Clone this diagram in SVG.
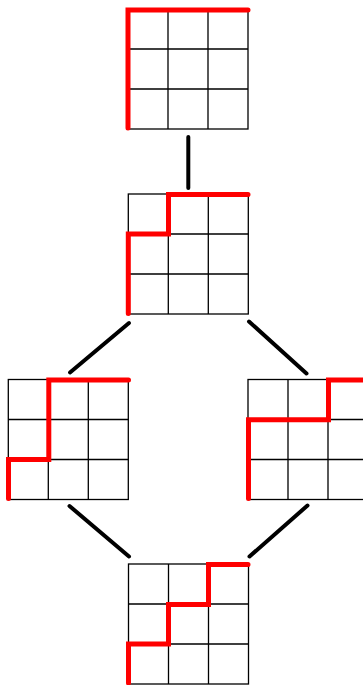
<svg xmlns="http://www.w3.org/2000/svg" width="363" height="685" viewBox="0 0 363 685">
  <style>
    .grid { fill: none; stroke: #000; stroke-width: 1.3; }
    .path { fill: none; stroke: #ff0000; stroke-width: 5; stroke-linecap: round; stroke-linejoin: miter; }
    .edge { stroke: #000; stroke-width: 4; stroke-linecap: round; }
  </style>
  <defs>
    <!-- 3x3 lattice, 40px cells -->
    <g id="lattice">
      <rect class="grid" x="0" y="0" width="120" height="120"/>
      <path class="grid" d="M40 0V120M80 0V120M0 40H120M0 80H120"/>
    </g>
  </defs>
  <rect width="363" height="685" fill="#fff"/>

  <g id="connectors">
    <line class="edge" x1="188.3" y1="137" x2="188.3" y2="188"/>
    <line class="edge" x1="129" y1="323" x2="70" y2="372.5"/>
    <line class="edge" x1="249" y1="321.5" x2="306.5" y2="373.5"/>
    <line class="edge" x1="69.5" y1="506" x2="129" y2="556.5"/>
    <line class="edge" x1="307.5" y1="505.5" x2="249.5" y2="556.5"/>
  </g>

  <g id="node-top">
    <use href="#lattice" x="128" y="9"/>
    <path class="path" d="M128 128V10H248"/>
  </g>

  <g id="node-middle">
    <use href="#lattice" x="128.3" y="194"/>
    <path class="path" d="M128.3 313.5V234H168.5V194.5H248"/>
  </g>

  <g id="node-left">
    <use href="#lattice" x="8.3" y="379.5"/>
    <path class="path" d="M8.5 498.5V459.5H48.8V380H128.5"/>
  </g>

  <g id="node-right">
    <use href="#lattice" x="248" y="379.5"/>
    <path class="path" d="M248.5 498.5V419.8H328.5V380H366"/>
  </g>

  <g id="node-bottom">
    <use href="#lattice" x="128.5" y="564"/>
    <path class="path" d="M128.5 683V644H168.5V604.5H208.5V564.5H248"/>
  </g>
</svg>
